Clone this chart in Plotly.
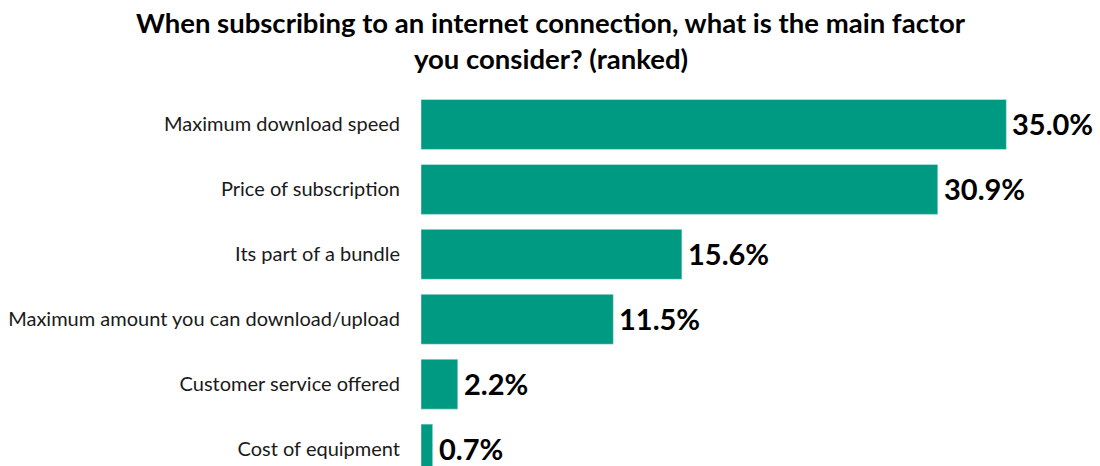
import plotly.graph_objects as go

categories = [
    "Maximum download speed",
    "Price of subscription",
    "Its part of a bundle",
    "Maximum amount you can download/upload",
    "Customer service offered",
    "Cost of equipment",
]
values = [35.0, 30.9, 15.6, 11.5, 2.2, 0.7]
value_labels = [f"{v:.1f}%" for v in values]

title_lines = [
    "When subscribing to an internet connection, what is the main factor",
    "you consider? (ranked)",
]

W, H = 1100, 466
M_L, M_R, M_T, M_B = 421, 10, 92, 0
plot_w, plot_h = W - M_L - M_R, H - M_T - M_B

fig = go.Figure(
    go.Bar(
        x=values,
        y=categories,
        orientation="h",
        marker=dict(color="#009A83"),
        width=0.77,
        cliponaxis=False,
        hoverinfo="x+y",
    )
)

# value labels just past each bar end
for cat, v, lab in zip(categories, values, value_labels):
    fig.add_annotation(
        x=v, y=cat, xref="x", yref="y",
        text=lab, showarrow=False,
        xanchor="left", yanchor="middle",
        xshift=4, yshift=1,
        font=dict(family="Lato", size=29, color="#000000", weight="bold"),
    )

# two-line heading centred over the page
for i, line in enumerate(title_lines):
    y_px = 23 + 35 * i
    fig.add_annotation(
        x=(551 - M_L) / plot_w, y=(H - y_px - M_B) / plot_h,
        xref="paper", yref="paper",
        text=line, showarrow=False,
        xanchor="center", yanchor="middle",
        font=dict(family="Lato", size=27.5, color="#000000", weight="bold"),
    )

fig.update_layout(
    width=W,
    height=H,
    paper_bgcolor="white",
    plot_bgcolor="white",
    margin=dict(l=M_L, r=M_R, t=M_T, b=M_B),
    showlegend=False,
    xaxis=dict(range=[0, 40.0], visible=False),
    yaxis=dict(
        range=[5.26, -0.5],
        type="category",
        showgrid=False,
        zeroline=False,
        showline=False,
        ticks="",
        ticklabelstandoff=20,
        tickfont=dict(family="Lato", size=20, color="#1a1a1a"),
    ),
)

fig.write_html("out.html")
